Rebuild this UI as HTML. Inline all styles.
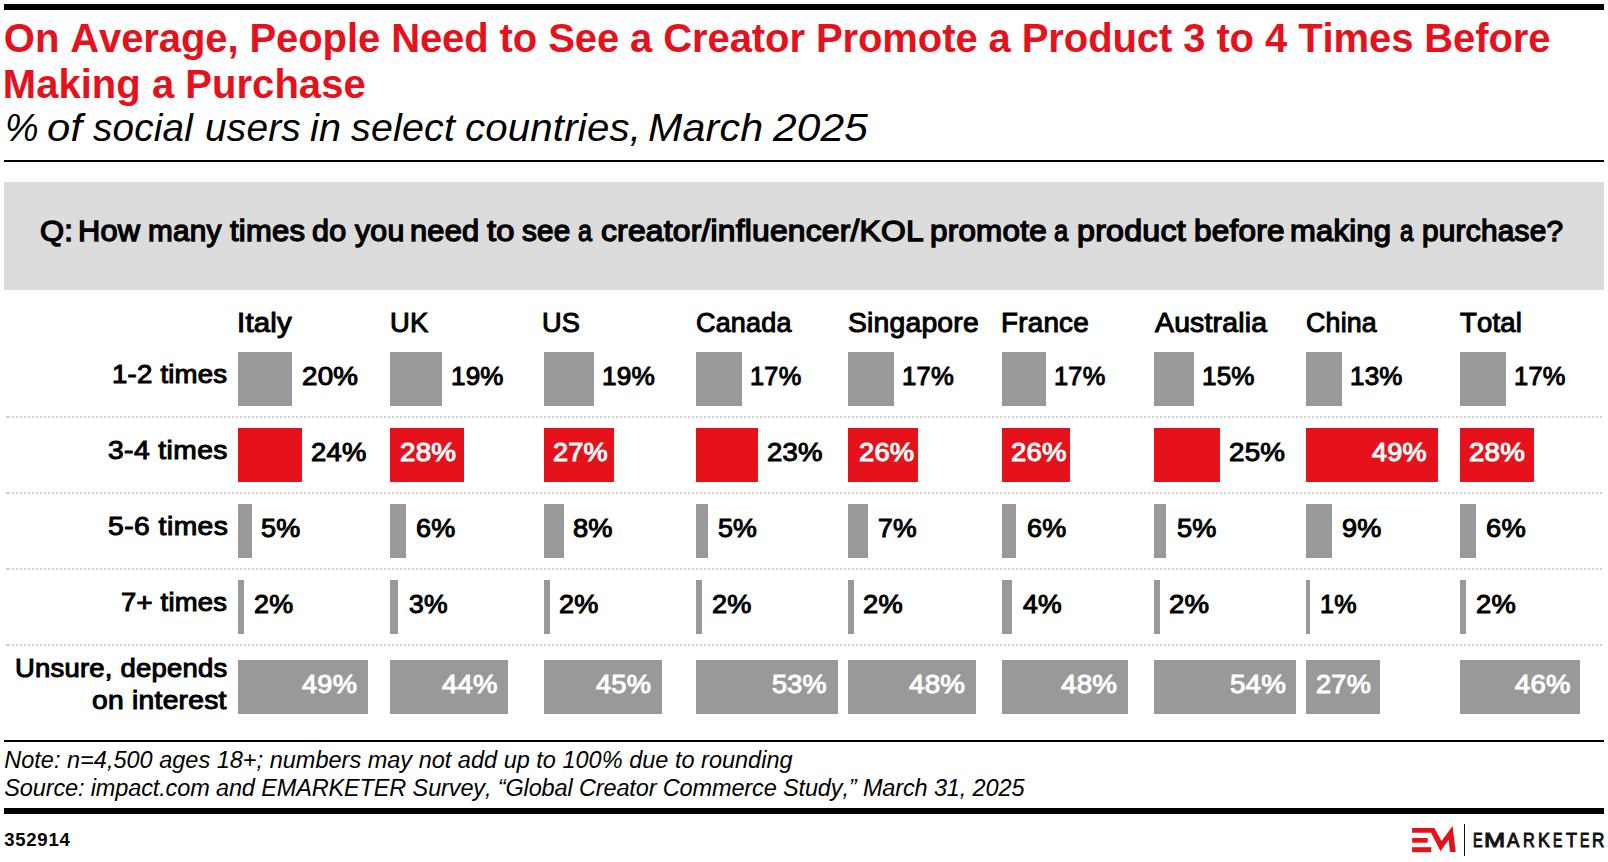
<!DOCTYPE html>
<html><head><meta charset="utf-8"><style>
html,body{margin:0;padding:0;background:#fff;}
body{width:1608px;height:862px;position:relative;overflow:hidden;font-family:"Liberation Sans",sans-serif;font-kerning:none;}
.t{position:absolute;white-space:nowrap;font-kerning:none;}
.r{position:absolute;}
.d{position:absolute;left:6px;width:1596px;height:2px;background:linear-gradient(to right,#d2d2d2 0,#d2d2d2 4px,transparent 4px),repeating-linear-gradient(to right,transparent 0,transparent 2px,#d2d2d2 2px,#d2d2d2 4px);}
</style></head><body>
<div class="r" style="left:4.00px;top:4.00px;width:1600.00px;height:6.00px;background:#000"></div>
<div class="t" style="left:3.86px;top:17.84px;font-size:40.00px;line-height:40.00px;font-weight:bold;font-style:normal;color:#e6121b;letter-spacing:-0.092px;">On Average, People Need to See a Creator Promote a Product 3 to 4 Times Before</div>
<div class="t" style="left:2.82px;top:64.04px;font-size:40.00px;line-height:40.00px;font-weight:bold;font-style:normal;color:#e6121b;letter-spacing:0.030px;">Making a Purchase</div>
<div class="t" style="left:4.80px;top:108.36px;font-size:39.50px;line-height:39.50px;font-weight:normal;font-style:italic;color:#000;letter-spacing:0.000px;transform:scaleX(0.9572);transform-origin:0 0;">%</div>
<div class="t" style="left:47.13px;top:108.36px;font-size:39.50px;line-height:39.50px;font-weight:normal;font-style:italic;color:#000;letter-spacing:0.200px;transform:scaleX(1.0577);transform-origin:0 0;">of</div>
<div class="t" style="left:93.21px;top:108.36px;font-size:39.50px;line-height:39.50px;font-weight:normal;font-style:italic;color:#000;letter-spacing:0.200px;transform:scaleX(0.9798);transform-origin:0 0;">social</div>
<div class="t" style="left:204.87px;top:108.36px;font-size:39.50px;line-height:39.50px;font-weight:normal;font-style:italic;color:#000;letter-spacing:0.200px;transform:scaleX(0.9829);transform-origin:0 0;">users</div>
<div class="t" style="left:310.46px;top:108.36px;font-size:39.50px;line-height:39.50px;font-weight:normal;font-style:italic;color:#000;letter-spacing:0.200px;transform:scaleX(1.0030);transform-origin:0 0;">in</div>
<div class="t" style="left:351.40px;top:108.36px;font-size:39.50px;line-height:39.50px;font-weight:normal;font-style:italic;color:#000;letter-spacing:0.200px;transform:scaleX(0.9975);transform-origin:0 0;">select</div>
<div class="t" style="left:465.39px;top:108.36px;font-size:39.50px;line-height:39.50px;font-weight:normal;font-style:italic;color:#000;letter-spacing:0.200px;transform:scaleX(1.0163);transform-origin:0 0;">countries,</div>
<div class="t" style="left:647.53px;top:108.36px;font-size:39.50px;line-height:39.50px;font-weight:normal;font-style:italic;color:#000;letter-spacing:0.200px;transform:scaleX(1.0417);transform-origin:0 0;">March</div>
<div class="t" style="left:772.75px;top:108.36px;font-size:39.50px;line-height:39.50px;font-weight:normal;font-style:italic;color:#000;letter-spacing:0.200px;transform:scaleX(1.0732);transform-origin:0 0;">2025</div>
<div class="r" style="left:4.00px;top:160.00px;width:1600.00px;height:2.00px;background:#000"></div>
<div class="r" style="left:4.00px;top:182.00px;width:1600.00px;height:108.00px;background:#dcdcdc"></div>
<div class="t" style="left:39.58px;top:216.33px;font-size:29.50px;line-height:29.50px;font-weight:normal;font-style:normal;color:#000;letter-spacing:0.200px;-webkit-text-stroke:1.30px #000;transform:scaleX(1.0495);transform-origin:0 0;">Q:</div>
<div class="t" style="left:77.92px;top:216.33px;font-size:29.50px;line-height:29.50px;font-weight:normal;font-style:normal;color:#000;letter-spacing:0.200px;-webkit-text-stroke:1.30px #000;transform:scaleX(1.0444);transform-origin:0 0;">How</div>
<div class="t" style="left:147.57px;top:216.33px;font-size:29.50px;line-height:29.50px;font-weight:normal;font-style:normal;color:#000;letter-spacing:0.200px;-webkit-text-stroke:1.30px #000;transform:scaleX(1.0082);transform-origin:0 0;">many</div>
<div class="t" style="left:230.38px;top:216.33px;font-size:29.50px;line-height:29.50px;font-weight:normal;font-style:normal;color:#000;letter-spacing:0.200px;-webkit-text-stroke:1.30px #000;transform:scaleX(1.0521);transform-origin:0 0;">times</div>
<div class="t" style="left:312.37px;top:216.33px;font-size:29.50px;line-height:29.50px;font-weight:normal;font-style:normal;color:#000;letter-spacing:0.200px;-webkit-text-stroke:1.30px #000;transform:scaleX(1.0349);transform-origin:0 0;">do</div>
<div class="t" style="left:355.18px;top:216.33px;font-size:29.50px;line-height:29.50px;font-weight:normal;font-style:normal;color:#000;letter-spacing:0.200px;-webkit-text-stroke:1.30px #000;transform:scaleX(1.0276);transform-origin:0 0;">you</div>
<div class="t" style="left:409.81px;top:216.33px;font-size:29.50px;line-height:29.50px;font-weight:normal;font-style:normal;color:#000;letter-spacing:0.200px;-webkit-text-stroke:1.30px #000;transform:scaleX(1.0438);transform-origin:0 0;">need</div>
<div class="t" style="left:487.15px;top:216.33px;font-size:29.50px;line-height:29.50px;font-weight:normal;font-style:normal;color:#000;letter-spacing:0.200px;-webkit-text-stroke:1.30px #000;transform:scaleX(1.1117);transform-origin:0 0;">to</div>
<div class="t" style="left:522.22px;top:216.33px;font-size:29.50px;line-height:29.50px;font-weight:normal;font-style:normal;color:#000;letter-spacing:0.200px;-webkit-text-stroke:1.30px #000;transform:scaleX(1.0080);transform-origin:0 0;">see</div>
<div class="t" style="left:578.18px;top:216.33px;font-size:29.50px;line-height:29.50px;font-weight:normal;font-style:normal;color:#000;letter-spacing:0.000px;-webkit-text-stroke:1.30px #000;transform:scaleX(0.8513);transform-origin:0 0;">a</div>
<div class="t" style="left:600.80px;top:216.33px;font-size:29.50px;line-height:29.50px;font-weight:normal;font-style:normal;color:#000;letter-spacing:0.200px;-webkit-text-stroke:1.30px #000;transform:scaleX(1.0777);transform-origin:0 0;">creator/influencer/KOL</div>
<div class="t" style="left:930.32px;top:216.33px;font-size:29.50px;line-height:29.50px;font-weight:normal;font-style:normal;color:#000;letter-spacing:0.200px;-webkit-text-stroke:1.30px #000;transform:scaleX(1.0658);transform-origin:0 0;">promote</div>
<div class="t" style="left:1054.47px;top:216.33px;font-size:29.50px;line-height:29.50px;font-weight:normal;font-style:normal;color:#000;letter-spacing:0.000px;-webkit-text-stroke:1.30px #000;transform:scaleX(0.8645);transform-origin:0 0;">a</div>
<div class="t" style="left:1077.07px;top:216.33px;font-size:29.50px;line-height:29.50px;font-weight:normal;font-style:normal;color:#000;letter-spacing:0.200px;-webkit-text-stroke:1.30px #000;transform:scaleX(1.0915);transform-origin:0 0;">product</div>
<div class="t" style="left:1193.52px;top:216.33px;font-size:29.50px;line-height:29.50px;font-weight:normal;font-style:normal;color:#000;letter-spacing:0.200px;-webkit-text-stroke:1.30px #000;transform:scaleX(1.0684);transform-origin:0 0;">before</div>
<div class="t" style="left:1290.49px;top:216.33px;font-size:29.50px;line-height:29.50px;font-weight:normal;font-style:normal;color:#000;letter-spacing:0.200px;-webkit-text-stroke:1.30px #000;transform:scaleX(1.0506);transform-origin:0 0;">making</div>
<div class="t" style="left:1399.72px;top:216.33px;font-size:29.50px;line-height:29.50px;font-weight:normal;font-style:normal;color:#000;letter-spacing:0.000px;-webkit-text-stroke:1.30px #000;transform:scaleX(0.8183);transform-origin:0 0;">a</div>
<div class="t" style="left:1422.43px;top:216.33px;font-size:29.50px;line-height:29.50px;font-weight:normal;font-style:normal;color:#000;letter-spacing:0.200px;-webkit-text-stroke:1.30px #000;transform:scaleX(1.0120);transform-origin:0 0;">purchase?</div>
<div class="t" style="left:236.99px;top:310.14px;font-size:27.00px;line-height:27.00px;font-weight:normal;font-style:normal;color:#000;letter-spacing:0.200px;-webkit-text-stroke:1.00px #000;transform:scaleX(1.0885);transform-origin:0 0;">Italy</div>
<div class="t" style="left:390.09px;top:310.14px;font-size:27.00px;line-height:27.00px;font-weight:normal;font-style:normal;color:#000;letter-spacing:0.200px;-webkit-text-stroke:1.00px #000;transform:scaleX(1.0136);transform-origin:0 0;">UK</div>
<div class="t" style="left:542.30px;top:310.14px;font-size:27.00px;line-height:27.00px;font-weight:normal;font-style:normal;color:#000;letter-spacing:0.200px;-webkit-text-stroke:1.00px #000;transform:scaleX(1.0063);transform-origin:0 0;">US</div>
<div class="t" style="left:696.03px;top:310.14px;font-size:27.00px;line-height:27.00px;font-weight:normal;font-style:normal;color:#000;letter-spacing:0.200px;-webkit-text-stroke:1.00px #000;transform:scaleX(0.9978);transform-origin:0 0;">Canada</div>
<div class="t" style="left:847.92px;top:310.14px;font-size:27.00px;line-height:27.00px;font-weight:normal;font-style:normal;color:#000;letter-spacing:0.200px;-webkit-text-stroke:1.00px #000;transform:scaleX(1.0477);transform-origin:0 0;">Singapore</div>
<div class="t" style="left:1000.82px;top:310.14px;font-size:27.00px;line-height:27.00px;font-weight:normal;font-style:normal;color:#000;letter-spacing:0.200px;-webkit-text-stroke:1.00px #000;transform:scaleX(1.0316);transform-origin:0 0;">France</div>
<div class="t" style="left:1154.84px;top:310.14px;font-size:27.00px;line-height:27.00px;font-weight:normal;font-style:normal;color:#000;letter-spacing:0.200px;-webkit-text-stroke:1.00px #000;transform:scaleX(1.0507);transform-origin:0 0;">Australia</div>
<div class="t" style="left:1306.34px;top:310.14px;font-size:27.00px;line-height:27.00px;font-weight:normal;font-style:normal;color:#000;letter-spacing:0.200px;-webkit-text-stroke:1.00px #000;transform:scaleX(0.9918);transform-origin:0 0;">China</div>
<div class="t" style="left:1459.98px;top:310.14px;font-size:27.00px;line-height:27.00px;font-weight:normal;font-style:normal;color:#000;letter-spacing:0.200px;-webkit-text-stroke:1.00px #000;transform:scaleX(1.0186);transform-origin:0 0;">Total</div>
<div class="t" style="left:112.30px;top:362.47px;font-size:25.20px;line-height:25.20px;font-weight:normal;font-style:normal;color:#000;letter-spacing:0.200px;-webkit-text-stroke:1.00px #000;transform:scaleX(1.0947);transform-origin:0 0;">1-2 times</div>
<div class="t" style="left:108.03px;top:438.47px;font-size:25.20px;line-height:25.20px;font-weight:normal;font-style:normal;color:#000;letter-spacing:0.383px;-webkit-text-stroke:1.00px #000;transform:scaleX(1.1200);transform-origin:0 0;">3-4 times</div>
<div class="t" style="left:107.57px;top:514.47px;font-size:25.20px;line-height:25.20px;font-weight:normal;font-style:normal;color:#000;letter-spacing:0.434px;-webkit-text-stroke:1.00px #000;transform:scaleX(1.1200);transform-origin:0 0;">5-6 times</div>
<div class="t" style="left:121.49px;top:590.47px;font-size:25.20px;line-height:25.20px;font-weight:normal;font-style:normal;color:#000;letter-spacing:0.200px;-webkit-text-stroke:1.00px #000;transform:scaleX(1.0890);transform-origin:0 0;">7+ times</div>
<div class="t" style="left:15.08px;top:656.27px;font-size:25.20px;line-height:25.20px;font-weight:normal;font-style:normal;color:#000;letter-spacing:0.200px;-webkit-text-stroke:1.00px #000;transform:scaleX(1.0903);transform-origin:0 0;">Unsure, depends</div>
<div class="t" style="left:92.11px;top:688.07px;font-size:25.20px;line-height:25.20px;font-weight:normal;font-style:normal;color:#000;letter-spacing:0.241px;-webkit-text-stroke:1.00px #000;transform:scaleX(1.1200);transform-origin:0 0;">on interest</div>
<div class="r" style="left:238.00px;top:352.00px;width:54.00px;height:53.70px;background:#999999"></div>
<div class="t" style="left:302.30px;top:364.07px;font-size:25.20px;line-height:25.20px;font-weight:normal;font-style:normal;color:#000;letter-spacing:0.200px;-webkit-text-stroke:1.00px #000;transform:scaleX(1.1013);transform-origin:0 0;">20%</div>
<div class="r" style="left:390.00px;top:352.00px;width:52.00px;height:53.70px;background:#999999"></div>
<div class="t" style="left:450.92px;top:364.07px;font-size:25.20px;line-height:25.20px;font-weight:normal;font-style:normal;color:#000;letter-spacing:0.200px;-webkit-text-stroke:1.00px #000;transform:scaleX(1.0329);transform-origin:0 0;">19%</div>
<div class="r" style="left:544.00px;top:352.00px;width:50.00px;height:53.70px;background:#999999"></div>
<div class="t" style="left:602.40px;top:364.07px;font-size:25.20px;line-height:25.20px;font-weight:normal;font-style:normal;color:#000;letter-spacing:0.200px;-webkit-text-stroke:1.00px #000;transform:scaleX(1.0413);transform-origin:0 0;">19%</div>
<div class="r" style="left:696.00px;top:352.00px;width:46.00px;height:53.70px;background:#999999"></div>
<div class="t" style="left:750.07px;top:364.07px;font-size:25.20px;line-height:25.20px;font-weight:normal;font-style:normal;color:#000;letter-spacing:0.200px;-webkit-text-stroke:1.00px #000;transform:scaleX(1.0079);transform-origin:0 0;">17%</div>
<div class="r" style="left:848.00px;top:352.00px;width:46.00px;height:53.70px;background:#999999"></div>
<div class="t" style="left:902.45px;top:364.07px;font-size:25.20px;line-height:25.20px;font-weight:normal;font-style:normal;color:#000;letter-spacing:0.200px;-webkit-text-stroke:1.00px #000;transform:scaleX(1.0183);transform-origin:0 0;">17%</div>
<div class="r" style="left:1002.00px;top:352.00px;width:44.00px;height:53.70px;background:#999999"></div>
<div class="t" style="left:1054.37px;top:364.07px;font-size:25.20px;line-height:25.20px;font-weight:normal;font-style:normal;color:#000;letter-spacing:0.200px;-webkit-text-stroke:1.00px #000;transform:scaleX(1.0079);transform-origin:0 0;">17%</div>
<div class="r" style="left:1154.00px;top:352.00px;width:40.00px;height:53.70px;background:#999999"></div>
<div class="t" style="left:1202.32px;top:364.07px;font-size:25.20px;line-height:25.20px;font-weight:normal;font-style:normal;color:#000;letter-spacing:0.200px;-webkit-text-stroke:1.00px #000;transform:scaleX(1.0329);transform-origin:0 0;">15%</div>
<div class="r" style="left:1306.00px;top:352.00px;width:36.00px;height:53.70px;background:#999999"></div>
<div class="t" style="left:1350.02px;top:364.07px;font-size:25.20px;line-height:25.20px;font-weight:normal;font-style:normal;color:#000;letter-spacing:0.200px;-webkit-text-stroke:1.00px #000;transform:scaleX(1.0308);transform-origin:0 0;">13%</div>
<div class="r" style="left:1460.00px;top:352.00px;width:46.00px;height:53.70px;background:#999999"></div>
<div class="t" style="left:1514.26px;top:364.07px;font-size:25.20px;line-height:25.20px;font-weight:normal;font-style:normal;color:#000;letter-spacing:0.200px;-webkit-text-stroke:1.00px #000;transform:scaleX(1.0121);transform-origin:0 0;">17%</div>
<div class="d" style="top:416px"></div>
<div class="r" style="left:238.00px;top:428.00px;width:64.00px;height:53.70px;background:#e6121b"></div>
<div class="t" style="left:311.12px;top:440.07px;font-size:25.20px;line-height:25.20px;font-weight:normal;font-style:normal;color:#000;letter-spacing:0.200px;-webkit-text-stroke:1.00px #000;transform:scaleX(1.0869);transform-origin:0 0;">24%</div>
<div class="r" style="left:390.00px;top:428.00px;width:74.00px;height:53.70px;background:#e6121b"></div>
<div class="t" style="left:400.40px;top:440.07px;font-size:25.20px;line-height:25.20px;font-weight:normal;font-style:normal;color:#fff;letter-spacing:0.200px;-webkit-text-stroke:1.00px #fff;transform:scaleX(1.1033);transform-origin:0 0;">28%</div>
<div class="r" style="left:544.00px;top:428.00px;width:70.00px;height:53.70px;background:#e6121b"></div>
<div class="t" style="left:553.14px;top:440.07px;font-size:25.20px;line-height:25.20px;font-weight:normal;font-style:normal;color:#fff;letter-spacing:0.200px;-webkit-text-stroke:1.00px #fff;transform:scaleX(1.0766);transform-origin:0 0;">27%</div>
<div class="r" style="left:696.00px;top:428.00px;width:62.00px;height:53.70px;background:#e6121b"></div>
<div class="t" style="left:767.32px;top:440.07px;font-size:25.20px;line-height:25.20px;font-weight:normal;font-style:normal;color:#000;letter-spacing:0.200px;-webkit-text-stroke:1.00px #000;transform:scaleX(1.0910);transform-origin:0 0;">23%</div>
<div class="r" style="left:848.00px;top:428.00px;width:70.00px;height:53.70px;background:#e6121b"></div>
<div class="t" style="left:858.53px;top:440.07px;font-size:25.20px;line-height:25.20px;font-weight:normal;font-style:normal;color:#fff;letter-spacing:0.200px;-webkit-text-stroke:1.00px #fff;transform:scaleX(1.0848);transform-origin:0 0;">26%</div>
<div class="r" style="left:1002.00px;top:428.00px;width:68.00px;height:53.70px;background:#e6121b"></div>
<div class="t" style="left:1010.82px;top:440.07px;font-size:25.20px;line-height:25.20px;font-weight:normal;font-style:normal;color:#fff;letter-spacing:0.200px;-webkit-text-stroke:1.00px #fff;transform:scaleX(1.0910);transform-origin:0 0;">26%</div>
<div class="r" style="left:1154.00px;top:428.00px;width:66.00px;height:53.70px;background:#e6121b"></div>
<div class="t" style="left:1229.10px;top:440.07px;font-size:25.20px;line-height:25.20px;font-weight:normal;font-style:normal;color:#000;letter-spacing:0.200px;-webkit-text-stroke:1.00px #000;transform:scaleX(1.1013);transform-origin:0 0;">25%</div>
<div class="r" style="left:1306.00px;top:428.00px;width:132.00px;height:53.70px;background:#e6121b"></div>
<div class="t" style="left:1371.58px;top:440.07px;font-size:25.20px;line-height:25.20px;font-weight:normal;font-style:normal;color:#fff;letter-spacing:0.200px;-webkit-text-stroke:1.00px #fff;transform:scaleX(1.0737);transform-origin:0 0;">49%</div>
<div class="r" style="left:1460.00px;top:428.00px;width:74.00px;height:53.70px;background:#e6121b"></div>
<div class="t" style="left:1468.91px;top:440.07px;font-size:25.20px;line-height:25.20px;font-weight:normal;font-style:normal;color:#fff;letter-spacing:0.200px;-webkit-text-stroke:1.00px #fff;transform:scaleX(1.0992);transform-origin:0 0;">28%</div>
<div class="d" style="top:492px"></div>
<div class="r" style="left:238.00px;top:504.00px;width:14.00px;height:53.70px;background:#999999"></div>
<div class="t" style="left:261.22px;top:516.07px;font-size:25.20px;line-height:25.20px;font-weight:normal;font-style:normal;color:#000;letter-spacing:0.200px;-webkit-text-stroke:1.00px #000;transform:scaleX(1.0716);transform-origin:0 0;">5%</div>
<div class="r" style="left:390.00px;top:504.00px;width:16.00px;height:53.70px;background:#999999"></div>
<div class="t" style="left:415.73px;top:516.07px;font-size:25.20px;line-height:25.20px;font-weight:normal;font-style:normal;color:#000;letter-spacing:0.200px;-webkit-text-stroke:1.00px #000;transform:scaleX(1.0713);transform-origin:0 0;">6%</div>
<div class="r" style="left:544.00px;top:504.00px;width:20.00px;height:53.70px;background:#999999"></div>
<div class="t" style="left:572.92px;top:516.07px;font-size:25.20px;line-height:25.20px;font-weight:normal;font-style:normal;color:#000;letter-spacing:0.200px;-webkit-text-stroke:1.00px #000;transform:scaleX(1.0800);transform-origin:0 0;">8%</div>
<div class="r" style="left:696.00px;top:504.00px;width:12.00px;height:53.70px;background:#999999"></div>
<div class="t" style="left:718.43px;top:516.07px;font-size:25.20px;line-height:25.20px;font-weight:normal;font-style:normal;color:#000;letter-spacing:0.200px;-webkit-text-stroke:1.00px #000;transform:scaleX(1.0630);transform-origin:0 0;">5%</div>
<div class="r" style="left:848.00px;top:504.00px;width:20.00px;height:53.70px;background:#999999"></div>
<div class="t" style="left:877.54px;top:516.07px;font-size:25.20px;line-height:25.20px;font-weight:normal;font-style:normal;color:#000;letter-spacing:0.200px;-webkit-text-stroke:1.00px #000;transform:scaleX(1.0543);transform-origin:0 0;">7%</div>
<div class="r" style="left:1002.00px;top:504.00px;width:14.00px;height:53.70px;background:#999999"></div>
<div class="t" style="left:1026.53px;top:516.07px;font-size:25.20px;line-height:25.20px;font-weight:normal;font-style:normal;color:#000;letter-spacing:0.200px;-webkit-text-stroke:1.00px #000;transform:scaleX(1.0713);transform-origin:0 0;">6%</div>
<div class="r" style="left:1154.00px;top:504.00px;width:12.00px;height:53.70px;background:#999999"></div>
<div class="t" style="left:1176.51px;top:516.07px;font-size:25.20px;line-height:25.20px;font-weight:normal;font-style:normal;color:#000;letter-spacing:0.200px;-webkit-text-stroke:1.00px #000;transform:scaleX(1.0774);transform-origin:0 0;">5%</div>
<div class="r" style="left:1306.00px;top:504.00px;width:26.00px;height:53.70px;background:#999999"></div>
<div class="t" style="left:1341.83px;top:516.07px;font-size:25.20px;line-height:25.20px;font-weight:normal;font-style:normal;color:#000;letter-spacing:0.200px;-webkit-text-stroke:1.00px #000;transform:scaleX(1.0740);transform-origin:0 0;">9%</div>
<div class="r" style="left:1460.00px;top:504.00px;width:16.00px;height:53.70px;background:#999999"></div>
<div class="t" style="left:1486.11px;top:516.07px;font-size:25.20px;line-height:25.20px;font-weight:normal;font-style:normal;color:#000;letter-spacing:0.200px;-webkit-text-stroke:1.00px #000;transform:scaleX(1.0829);transform-origin:0 0;">6%</div>
<div class="d" style="top:568px"></div>
<div class="r" style="left:238.00px;top:580.00px;width:6.00px;height:53.70px;background:#999999"></div>
<div class="t" style="left:253.95px;top:592.07px;font-size:25.20px;line-height:25.20px;font-weight:normal;font-style:normal;color:#000;letter-spacing:0.200px;-webkit-text-stroke:1.00px #000;transform:scaleX(1.0680);transform-origin:0 0;">2%</div>
<div class="r" style="left:390.00px;top:580.00px;width:8.00px;height:53.70px;background:#999999"></div>
<div class="t" style="left:409.09px;top:592.07px;font-size:25.20px;line-height:25.20px;font-weight:normal;font-style:normal;color:#000;letter-spacing:0.200px;-webkit-text-stroke:1.00px #000;transform:scaleX(1.0528);transform-origin:0 0;">3%</div>
<div class="r" style="left:544.00px;top:580.00px;width:6.00px;height:53.70px;background:#999999"></div>
<div class="t" style="left:559.44px;top:592.07px;font-size:25.20px;line-height:25.20px;font-weight:normal;font-style:normal;color:#000;letter-spacing:0.200px;-webkit-text-stroke:1.00px #000;transform:scaleX(1.0767);transform-origin:0 0;">2%</div>
<div class="r" style="left:696.00px;top:580.00px;width:6.00px;height:53.70px;background:#999999"></div>
<div class="t" style="left:711.64px;top:592.07px;font-size:25.20px;line-height:25.20px;font-weight:normal;font-style:normal;color:#000;letter-spacing:0.200px;-webkit-text-stroke:1.00px #000;transform:scaleX(1.0767);transform-origin:0 0;">2%</div>
<div class="r" style="left:848.00px;top:580.00px;width:6.00px;height:53.70px;background:#999999"></div>
<div class="t" style="left:863.43px;top:592.07px;font-size:25.20px;line-height:25.20px;font-weight:normal;font-style:normal;color:#000;letter-spacing:0.200px;-webkit-text-stroke:1.00px #000;transform:scaleX(1.0825);transform-origin:0 0;">2%</div>
<div class="r" style="left:1002.00px;top:580.00px;width:10.00px;height:53.70px;background:#999999"></div>
<div class="t" style="left:1022.59px;top:592.07px;font-size:25.20px;line-height:25.20px;font-weight:normal;font-style:normal;color:#000;letter-spacing:0.200px;-webkit-text-stroke:1.00px #000;transform:scaleX(1.0556);transform-origin:0 0;">4%</div>
<div class="r" style="left:1154.00px;top:580.00px;width:6.00px;height:53.70px;background:#999999"></div>
<div class="t" style="left:1169.41px;top:592.07px;font-size:25.20px;line-height:25.20px;font-weight:normal;font-style:normal;color:#000;letter-spacing:0.200px;-webkit-text-stroke:1.00px #000;transform:scaleX(1.0941);transform-origin:0 0;">2%</div>
<div class="r" style="left:1306.00px;top:580.00px;width:4.00px;height:53.70px;background:#999999"></div>
<div class="t" style="left:1319.79px;top:592.07px;font-size:25.20px;line-height:25.20px;font-weight:normal;font-style:normal;color:#000;letter-spacing:0.200px;-webkit-text-stroke:1.00px #000;transform:scaleX(0.9969);transform-origin:0 0;">1%</div>
<div class="r" style="left:1460.00px;top:580.00px;width:6.00px;height:53.70px;background:#999999"></div>
<div class="t" style="left:1475.62px;top:592.07px;font-size:25.20px;line-height:25.20px;font-weight:normal;font-style:normal;color:#000;letter-spacing:0.200px;-webkit-text-stroke:1.00px #000;transform:scaleX(1.0854);transform-origin:0 0;">2%</div>
<div class="d" style="top:644px"></div>
<div class="r" style="left:238.00px;top:660.00px;width:130.00px;height:53.70px;background:#999999"></div>
<div class="t" style="left:301.68px;top:672.07px;font-size:25.20px;line-height:25.20px;font-weight:normal;font-style:normal;color:#fff;letter-spacing:0.200px;-webkit-text-stroke:1.00px #fff;transform:scaleX(1.0778);transform-origin:0 0;">49%</div>
<div class="r" style="left:390.00px;top:660.00px;width:118.00px;height:53.70px;background:#999999"></div>
<div class="t" style="left:441.87px;top:672.07px;font-size:25.20px;line-height:25.20px;font-weight:normal;font-style:normal;color:#fff;letter-spacing:0.200px;-webkit-text-stroke:1.00px #fff;transform:scaleX(1.0899);transform-origin:0 0;">44%</div>
<div class="r" style="left:544.00px;top:660.00px;width:118.00px;height:53.70px;background:#999999"></div>
<div class="t" style="left:596.18px;top:672.07px;font-size:25.20px;line-height:25.20px;font-weight:normal;font-style:normal;color:#fff;letter-spacing:0.200px;-webkit-text-stroke:1.00px #fff;transform:scaleX(1.0798);transform-origin:0 0;">45%</div>
<div class="r" style="left:696.00px;top:660.00px;width:142.00px;height:53.70px;background:#999999"></div>
<div class="t" style="left:771.92px;top:672.07px;font-size:25.20px;line-height:25.20px;font-weight:normal;font-style:normal;color:#fff;letter-spacing:0.200px;-webkit-text-stroke:1.00px #fff;transform:scaleX(1.0730);transform-origin:0 0;">53%</div>
<div class="r" style="left:848.00px;top:660.00px;width:128.00px;height:53.70px;background:#999999"></div>
<div class="t" style="left:908.56px;top:672.07px;font-size:25.20px;line-height:25.20px;font-weight:normal;font-style:normal;color:#fff;letter-spacing:0.200px;-webkit-text-stroke:1.00px #fff;transform:scaleX(1.1001);transform-origin:0 0;">48%</div>
<div class="r" style="left:1002.00px;top:660.00px;width:126.00px;height:53.70px;background:#999999"></div>
<div class="t" style="left:1061.26px;top:672.07px;font-size:25.20px;line-height:25.20px;font-weight:normal;font-style:normal;color:#fff;letter-spacing:0.200px;-webkit-text-stroke:1.00px #fff;transform:scaleX(1.1001);transform-origin:0 0;">48%</div>
<div class="r" style="left:1154.00px;top:660.00px;width:142.00px;height:53.70px;background:#999999"></div>
<div class="t" style="left:1229.99px;top:672.07px;font-size:25.20px;line-height:25.20px;font-weight:normal;font-style:normal;color:#fff;letter-spacing:0.200px;-webkit-text-stroke:1.00px #fff;transform:scaleX(1.0995);transform-origin:0 0;">54%</div>
<div class="r" style="left:1306.00px;top:660.00px;width:74.00px;height:53.70px;background:#999999"></div>
<div class="t" style="left:1316.43px;top:672.07px;font-size:25.20px;line-height:25.20px;font-weight:normal;font-style:normal;color:#fff;letter-spacing:0.200px;-webkit-text-stroke:1.00px #fff;transform:scaleX(1.0787);transform-origin:0 0;">27%</div>
<div class="r" style="left:1460.00px;top:660.00px;width:120.00px;height:53.70px;background:#999999"></div>
<div class="t" style="left:1514.77px;top:672.07px;font-size:25.20px;line-height:25.20px;font-weight:normal;font-style:normal;color:#fff;letter-spacing:0.200px;-webkit-text-stroke:1.00px #fff;transform:scaleX(1.0899);transform-origin:0 0;">46%</div>
<div class="r" style="left:4.00px;top:740.00px;width:1600.00px;height:2.00px;background:#000"></div>
<div class="t" style="left:4.28px;top:748.71px;font-size:23.50px;line-height:23.50px;font-weight:normal;font-style:italic;color:#000;letter-spacing:0.007px;">Note: n=4,500 ages 18+; numbers may not add up to 100% due to rounding</div>
<div class="t" style="left:4.33px;top:776.71px;font-size:23.50px;line-height:23.50px;font-weight:normal;font-style:italic;color:#000;letter-spacing:-0.134px;">Source: impact.com and EMARKETER Survey, “Global Creator Commerce Study,” March 31, 2025</div>
<div class="r" style="left:4.00px;top:808.00px;width:1600.00px;height:6.00px;background:#000"></div>
<div class="t" style="left:4.18px;top:831.14px;font-size:18.50px;line-height:18.50px;font-weight:bold;font-style:normal;color:#000;letter-spacing:0.778px;">352914</div>
<svg class="r" style="left:1408px;top:822px" width="54" height="34" viewBox="0 0 54 34">
<path fill="#e6121b" d="M4.1 5.9 L26.4 5.9 L33.5 18.9 L44.6 3.9 L47.7 30 L42 30 L40.6 17.75 L32.5 29.2 L23.1 10.65 L4.1 10.65 Z"/>
<rect fill="#e6121b" x="4.1" y="16" width="15.6" height="4.7"/>
<rect fill="#e6121b" x="4.1" y="25.2" width="19.2" height="5"/>
</svg>
<div class="r" style="left:1463.50px;top:824.00px;width:1.60px;height:32.00px;background:#111"></div>
<div class="t" style="left:1473.22px;top:830.02px;font-size:20.30px;line-height:20.30px;color:#111;-webkit-text-stroke:1.00px #111;transform:scaleX(0.7089);transform-origin:0 0">E</div>
<div class="t" style="left:1484.32px;top:830.02px;font-size:20.30px;line-height:20.30px;color:#111;-webkit-text-stroke:1.00px #111;transform:scaleX(1.2519);transform-origin:0 0">M</div>
<div class="t" style="left:1507.36px;top:830.02px;font-size:20.30px;line-height:20.30px;color:#111;-webkit-text-stroke:1.00px #111;transform:scaleX(0.9138);transform-origin:0 0">A</div>
<div class="t" style="left:1523.26px;top:830.02px;font-size:20.30px;line-height:20.30px;color:#111;-webkit-text-stroke:1.00px #111;transform:scaleX(0.8048);transform-origin:0 0">R</div>
<div class="t" style="left:1538.14px;top:830.02px;font-size:20.30px;line-height:20.30px;color:#111;-webkit-text-stroke:1.00px #111;transform:scaleX(0.8758);transform-origin:0 0">K</div>
<div class="t" style="left:1553.45px;top:830.02px;font-size:20.30px;line-height:20.30px;color:#111;-webkit-text-stroke:1.00px #111;transform:scaleX(0.6908);transform-origin:0 0">E</div>
<div class="t" style="left:1565.79px;top:830.02px;font-size:20.30px;line-height:20.30px;color:#111;-webkit-text-stroke:1.00px #111;transform:scaleX(0.8886);transform-origin:0 0">T</div>
<div class="t" style="left:1580.05px;top:830.02px;font-size:20.30px;line-height:20.30px;color:#111;-webkit-text-stroke:1.00px #111;transform:scaleX(0.6908);transform-origin:0 0">E</div>
<div class="t" style="left:1591.79px;top:830.02px;font-size:20.30px;line-height:20.30px;color:#111;-webkit-text-stroke:1.00px #111;transform:scaleX(0.8463);transform-origin:0 0">R</div>
</body></html>
